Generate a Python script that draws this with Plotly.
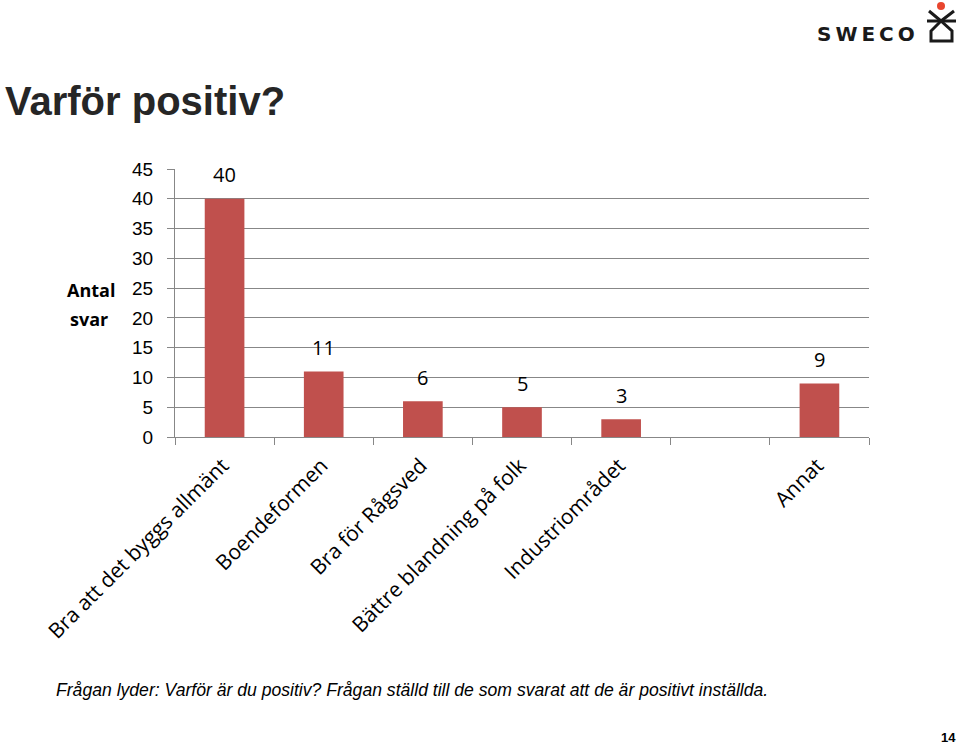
import plotly.graph_objects as go

categories = ["Bra att det byggs allmänt", "Boendeformen", "Bra för Rågsved",
              "Bättre blandning på folk", "Industriområdet", " ", "Annat"]
values = [40, 11, 6, 5, 3, None, 9]
y_ticks = [0, 5, 10, 15, 20, 25, 30, 35, 40, 45]

title_text = "Varför positiv?"
y_title = ["Antal", "svar"]
footnote = "Frågan lyder: Varför är du positiv? Frågan ställd till de som svarat att de är positivt inställda."
page_no = "14"

FIG_W, FIG_H = 960, 745
L, T, W, H = 175, 169, 694, 268
BAR_COLOR = "#C0504D"
GRID = "#878787"


def px(x):
    return (x - L) / W


def py(y):
    return (T + H - y) / H


fig = go.Figure()
fig.add_trace(go.Bar(x=categories, y=values, marker_color=BAR_COLOR,
                     marker_line_width=0, hoverinfo="skip"))

annotations = []
for c, v in zip(categories, values):
    if v is None:
        continue
    annotations.append(dict(x=c, y=v, xref="x", yref="y", text=str(v), showarrow=False,
                            yanchor="middle", yshift=24,
                            font=dict(family="Open Sans", size=20, color="#000")))

annotations += [
    dict(x=px(3), y=py(101), xref="paper", yref="paper", text=title_text, showarrow=False,
         xanchor="left", yanchor="middle",
         font=dict(family="Liberation Sans, Arial", size=40, color="#262626", weight="bold")),
    dict(x=px(91), y=py(290), xref="paper", yref="paper", text=y_title[0], showarrow=False,
         xanchor="center", yanchor="middle",
         font=dict(family="Open Sans", size=18, color="#000", weight="bold")),
    dict(x=px(89), y=py(319), xref="paper", yref="paper", text=y_title[1], showarrow=False,
         xanchor="center", yanchor="middle",
         font=dict(family="Open Sans", size=18, color="#000", weight="bold")),
    dict(x=px(54), y=py(690), xref="paper", yref="paper", text=footnote, showarrow=False,
         xanchor="left", yanchor="middle",
         font=dict(family="Liberation Sans, Arial", size=17.6, color="#000", style="italic")),
    dict(x=px(958), y=py(737), xref="paper", yref="paper", text=page_no, showarrow=False,
         xanchor="right", yanchor="middle",
         font=dict(family="Liberation Sans, Arial", size=13, color="#000", weight="bold")),
    dict(x=px(866), y=py(34), xref="paper", yref="paper",
         text="S\u2009W\u2009E\u2009C\u2009O", showarrow=False,
         xanchor="center", yanchor="middle",
         font=dict(family="DejaVu Sans", size=20, color="#1a1a1a", weight="bold")),
]

shapes = [
    dict(type="circle", xref="paper", yref="paper", x0=px(937), x1=px(945), y0=py(10), y1=py(2),
         fillcolor="#E8452E", line_width=0),
    dict(type="path", xref="paper", yref="paper",
         path=f"M{px(929)},{py(11)} L{px(941)},{py(21)} L{px(954)},{py(11)}",
         line=dict(color="#1a1a1a", width=3)),
    dict(type="line", xref="paper", yref="paper", x0=px(927), x1=px(956), y0=py(21), y1=py(21),
         line=dict(color="#1a1a1a", width=3)),
    dict(type="path", xref="paper", yref="paper",
         path=(f"M{px(941)},{py(21)} L{px(931)},{py(31)} L{px(931)},{py(41)} "
               f"L{px(952)},{py(41)} L{px(952)},{py(31)} Z"),
         line=dict(color="#1a1a1a", width=3)),
]

fig.update_layout(
    width=FIG_W, height=FIG_H,
    margin=dict(l=L, r=FIG_W - L - W, t=T, b=FIG_H - T - H, pad=0),
    paper_bgcolor="white", plot_bgcolor="white",
    showlegend=False, bargap=0.6,
    annotations=annotations, shapes=shapes,
    xaxis=dict(type="category", tickson="boundaries", ticks="outside", ticklen=7,
               tickcolor=GRID, showline=True, linecolor=GRID, linewidth=1,
               showgrid=False, tickangle=-45, ticklabelshift=-2, ticklabelstandoff=7,
               tickfont=dict(family="Open Sans", size=21, color="#000")),
    yaxis=dict(range=[0, 45], tickvals=y_ticks, ticks="outside", ticklen=7, tickcolor=GRID,
               showline=True, linecolor=GRID, linewidth=1, showgrid=True, gridcolor=GRID,
               gridwidth=1, zeroline=False, ticklabelstandoff=10,
               tickfont=dict(family="Liberation Sans, Arial", size=19, color="#000")),
)

fig.write_html("out.html", config={"displayModeBar": False},
               post_script="document.body.style.margin='0px';document.body.style.overflow='hidden';")
